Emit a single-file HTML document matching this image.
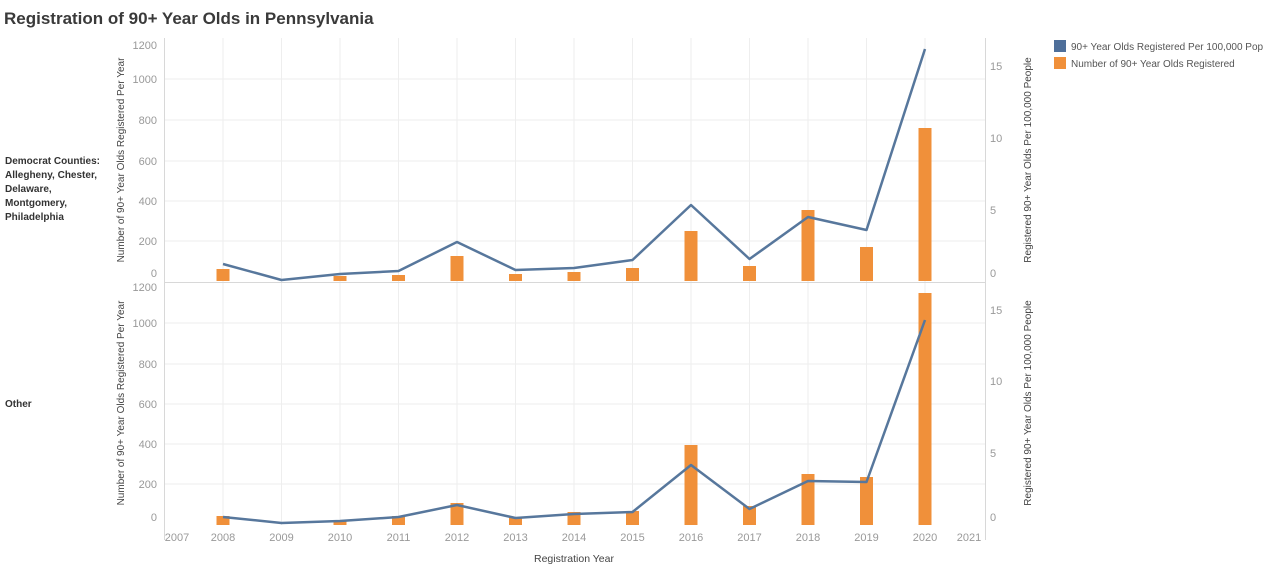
<!DOCTYPE html>
<html><head><meta charset="utf-8"><style>
body{margin:0;background:#fff;width:1280px;height:573px;overflow:hidden}
svg{font-family:"Liberation Sans",sans-serif}
</style></head><body>
<svg width="1280" height="573" viewBox="0 0 1280 573">
<text x="4" y="24" font-size="17" font-weight="bold" fill="#3a3a3a">Registration of 90+ Year Olds in Pennsylvania</text>
<g font-size="10" font-weight="bold" fill="#333">
<text x="5" y="164">Democrat Counties:</text>
<text x="5" y="178">Allegheny, Chester,</text>
<text x="5" y="192">Delaware,</text>
<text x="5" y="206">Montgomery,</text>
<text x="5" y="220">Philadelphia</text>
<text x="5" y="407">Other</text>
</g>
<g stroke="#eee" stroke-width="1">
<line x1="165" y1="79" x2="985" y2="79"/><line x1="165" y1="120" x2="985" y2="120"/><line x1="165" y1="161" x2="985" y2="161"/><line x1="165" y1="201" x2="985" y2="201"/><line x1="165" y1="241" x2="985" y2="241"/>
<line x1="165" y1="323" x2="985" y2="323"/><line x1="165" y1="364" x2="985" y2="364"/><line x1="165" y1="404" x2="985" y2="404"/><line x1="165" y1="444" x2="985" y2="444"/><line x1="165" y1="484" x2="985" y2="484"/>
<line x1="223" y1="38" x2="223" y2="525"/><line x1="281.5" y1="38" x2="281.5" y2="525"/><line x1="340" y1="38" x2="340" y2="525"/><line x1="398.5" y1="38" x2="398.5" y2="525"/><line x1="457" y1="38" x2="457" y2="525"/><line x1="515.5" y1="38" x2="515.5" y2="525"/><line x1="574" y1="38" x2="574" y2="525"/><line x1="632.5" y1="38" x2="632.5" y2="525"/><line x1="691" y1="38" x2="691" y2="525"/><line x1="749.5" y1="38" x2="749.5" y2="525"/><line x1="808" y1="38" x2="808" y2="525"/><line x1="866.5" y1="38" x2="866.5" y2="525"/><line x1="925" y1="38" x2="925" y2="525"/>
</g>
<g stroke="#d8d8d8"><line x1="164.5" y1="38" x2="164.5" y2="540"/><line x1="985.5" y1="38" x2="985.5" y2="540"/><line x1="164" y1="282.5" x2="986" y2="282.5"/></g>
<g font-size="11" fill="#999" text-anchor="end">
<text x="157" y="49">1200</text><text x="157" y="83">1000</text><text x="157" y="124">800</text><text x="157" y="165">600</text><text x="157" y="205">400</text><text x="157" y="245">200</text><text x="157" y="277">0</text>
<text x="157" y="291">1200</text><text x="157" y="327">1000</text><text x="157" y="368">800</text><text x="157" y="408">600</text><text x="157" y="448">400</text><text x="157" y="488">200</text><text x="157" y="521">0</text>
</g>
<g font-size="11" fill="#999">
<text x="990" y="70">15</text><text x="990" y="142">10</text><text x="990" y="214">5</text><text x="990" y="277">0</text>
<text x="990" y="314">15</text><text x="990" y="385">10</text><text x="990" y="457">5</text><text x="990" y="521">0</text>
</g>
<g font-size="11" fill="#999" text-anchor="middle">
<text x="177" y="541">2007</text><text x="223" y="541">2008</text><text x="281.5" y="541">2009</text><text x="340" y="541">2010</text><text x="398.5" y="541">2011</text><text x="457" y="541">2012</text><text x="515.5" y="541">2013</text><text x="574" y="541">2014</text><text x="632.5" y="541">2015</text><text x="691" y="541">2016</text><text x="749.5" y="541">2017</text><text x="808" y="541">2018</text><text x="866.5" y="541">2019</text><text x="925" y="541">2020</text><text x="969" y="541">2021</text>
</g>
<text x="574" y="562" font-size="10.5" fill="#444" text-anchor="middle">Registration Year</text>
<g font-size="10" fill="#444" text-anchor="middle">
<text transform="translate(124,160) rotate(-90)">Number of 90+ Year Olds Registered Per Year</text>
<text transform="translate(124,403) rotate(-90)">Number of 90+ Year Olds Registered Per Year</text>
<text transform="translate(1031,160) rotate(-90)">Registered 90+ Year Olds Per 100,000 People</text>
<text transform="translate(1031,403) rotate(-90)">Registered 90+ Year Olds Per 100,000 People</text>
</g>
<g fill="#f0903a">
<rect x="216.5" y="269" width="13" height="12"/><rect x="333.5" y="276" width="13" height="5"/><rect x="392" y="275" width="13" height="6"/><rect x="450.5" y="256" width="13" height="25"/><rect x="509" y="274" width="13" height="7"/><rect x="567.5" y="272" width="13" height="9"/><rect x="626" y="268" width="13" height="13"/><rect x="684.5" y="231" width="13" height="50"/><rect x="743" y="266" width="13" height="15"/><rect x="801.5" y="210" width="13" height="71"/><rect x="860" y="247" width="13" height="34"/><rect x="918.5" y="128" width="13" height="153"/>
<rect x="216.5" y="516" width="13" height="9"/><rect x="333.5" y="521" width="13" height="4"/><rect x="392" y="516" width="13" height="9"/><rect x="450.5" y="503" width="13" height="22"/><rect x="509" y="517" width="13" height="8"/><rect x="567.5" y="512" width="13" height="13"/><rect x="626" y="511" width="13" height="14"/><rect x="684.5" y="445" width="13" height="80"/><rect x="743" y="506" width="13" height="19"/><rect x="801.5" y="474" width="13" height="51"/><rect x="860" y="477" width="13" height="48"/><rect x="918.5" y="293" width="13" height="232"/>
</g>
<g fill="none" stroke="#57779c" stroke-width="2.5" stroke-linejoin="round">
<polyline points="223,264 281.5,280 340,274 398.5,271 457,242 515.5,270 574,268 632.5,260 691,205 749.5,259 808,217 866.5,230 925,49"/>
<polyline points="223,517 281.5,523 340,521 398.5,517 457,505 515.5,518 574,514 632.5,512 691,465 749.5,509 808,481 866.5,482 925,320"/>
</g>
<rect x="1054" y="40" width="12" height="12" fill="#4e6f9a"/>
<rect x="1054" y="57" width="12" height="12" fill="#f0903a"/>
<g font-size="10" fill="#555"><text x="1071" y="50">90+ Year Olds Registered Per 100,000 Pop</text><text x="1071" y="67">Number of 90+ Year Olds Registered</text></g>
</svg>
</body></html>
